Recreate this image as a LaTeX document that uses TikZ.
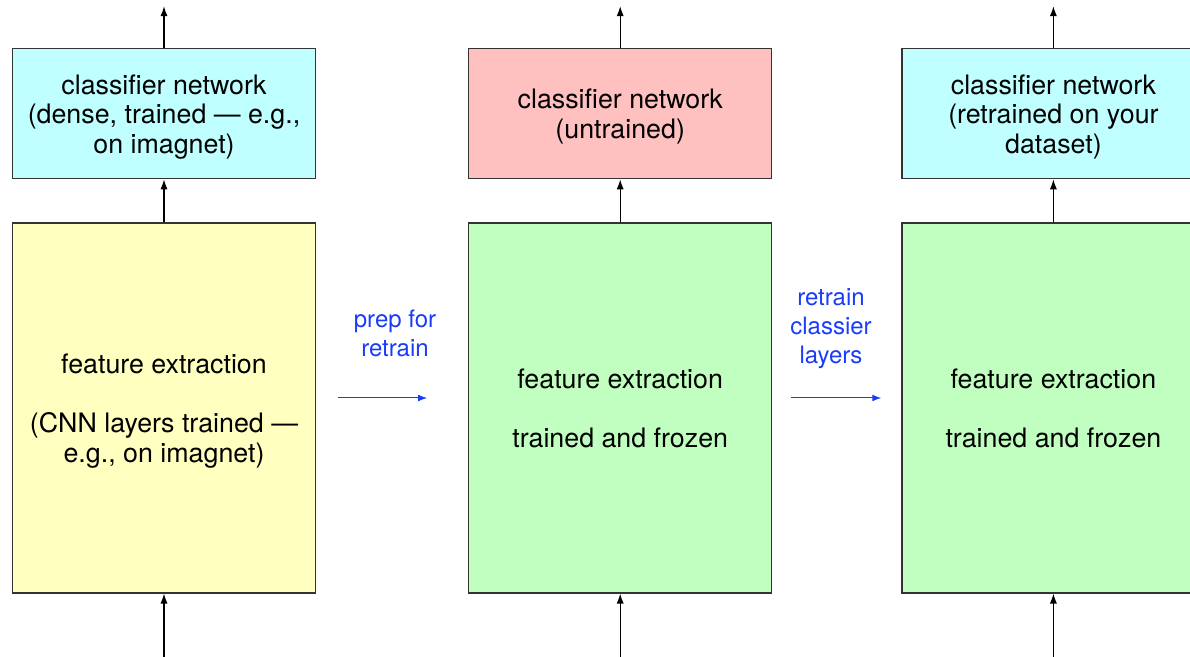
\documentclass[tikz,border=0pt]{standalone}
\usepackage{fontspec}
\setmainfont{TeX Gyre Heros}
\usetikzlibrary{positioning,arrows.meta}

\definecolor{classcyan}{HTML}{C0FFFF}
\definecolor{classpink}{HTML}{FFC0C0}
\definecolor{featyellow}{HTML}{FFFFC0}
\definecolor{featgreen}{HTML}{C0FFC0}
\definecolor{noteblue}{RGB}{25,60,250}

\begin{document}
\begin{tikzpicture}[x=0.5pt, y=-0.5pt, node distance=21.5pt,
  every text node part/.style={align=center},
  box/.style={draw=black!80, line width=0.6pt, minimum width=151.5pt, inner sep=0pt,
    text depth=-1.5pt, font=\fontsize{13.4pt}{14.8pt}\selectfont},
  features/.style={box, minimum height=185pt},
  classifier/.style={box, minimum height=65pt},
  flow/.style={line width=0.6pt, -{Latex[length=5pt,width=3.6pt]}},
  blue note/.style={text=noteblue, font=\fontsize{12pt}{14.5pt}\selectfont},
  blue arrow/.style={draw=noteblue, line width=0.5pt, -{Latex[length=4.5pt,width=3.4pt]}}]

\clip (0,0) rectangle (1190,657);

\node (pretrained features) [features, fill=featyellow] at (164,408) {feature extraction\\[14.8pt](CNN layers trained —\\e.g., on imagnet)};
\node (pretrained classifier) [classifier, fill=classcyan, above=of pretrained features] {classifier network\\(dense, trained — e.g.,\\on imagnet)};

\node (frozen features) [features, fill=featgreen, right=76pt of pretrained features] {feature extraction\\[14.8pt]trained and frozen};
\node (untrained classifier) [classifier, fill=classpink, above=of frozen features] {classifier network\\(untrained)};

\node (retrained features) [features, fill=featgreen, right=64.5pt of frozen features] {feature extraction\\[14.8pt]trained and frozen};
\node (retrained classifier) [classifier, fill=classcyan, above=of retrained features] {classifier network\\(retrained on your\\dataset)};

\foreach \feat/\cls/\tag in {pretrained features/pretrained classifier/a,
                             frozen features/untrained classifier/b,
                             retrained features/retrained classifier/c} {
  \coordinate [above=21pt of \cls] (out \tag);
  \coordinate [below=33pt of \feat] (in \tag);
  \draw [flow] (in \tag) -- (\feat);
  \draw [flow] (\feat) -- (\cls);
  \draw [flow] (\cls) -- (out \tag);
}

\draw [blue arrow] ([xshift=11pt, yshift=5pt]pretrained features.east) -- ([xshift=-20.5pt, yshift=5pt]frozen features.west);
\draw [blue arrow] ([xshift=9.5pt, yshift=5pt]frozen features.east) -- ([xshift=-10pt, yshift=5pt]retrained features.west);

\node (prep note) [blue note] at (395,333) {prep for\\retrain};
\node (retrain note) [blue note] at (831,329) {retrain\\classier\\layers};

\end{tikzpicture}
\end{document}
